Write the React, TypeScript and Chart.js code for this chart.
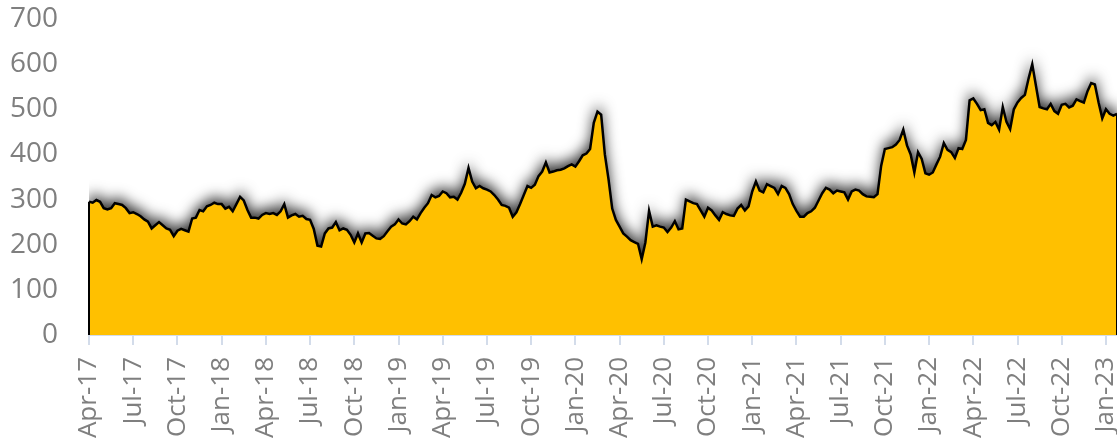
import React, { useEffect, useRef } from "react";
import { Chart, registerables } from "chart.js";

Chart.register(...registerables);

// Quarterly tick labels (one every 3 months starting Apr-17)
const quarterLabels = [
  "Apr-17", "Jul-17", "Oct-17", "Jan-18", "Apr-18", "Jul-18", "Oct-18", "Jan-19",
  "Apr-19", "Jul-19", "Oct-19", "Jan-20", "Apr-20", "Jul-20", "Oct-20", "Jan-21",
  "Apr-21", "Jul-21", "Oct-21", "Jan-22", "Apr-22", "Jul-22", "Oct-22", "Jan-23",
];

// Roughly weekly readings (4 per month), month 0 = Apr 2017
const samplesPerMonth = 4;

const vals2017 = [
  295, 293, 299, 295, 281, 278, 281, 292, 290, 288, 281, 270,
  272, 268, 263, 256, 251, 236, 243, 250, 243, 236, 233, 219,
  231, 235, 232, 229, 258, 260, 277, 274, 285, 288, 293, 290,
];
const vals2018 = [
  290, 280, 284, 274, 290, 306, 298, 277, 260, 260, 258, 266,
  270, 268, 270, 266, 274, 290, 260, 265, 268, 262, 264, 257,
  255, 235, 198, 196, 225, 236, 238, 250, 232, 236, 233, 222,
  205, 225, 205, 225, 226, 220, 214, 213, 219, 230, 240, 245,
];
const vals2019 = [
  256, 247, 245, 252, 262, 256, 270, 282, 292, 310, 305, 308,
  318, 314, 305, 306, 300, 315, 335, 370, 340, 325, 330, 325,
  322, 318, 310, 300, 288, 286, 282, 262, 272, 290, 310, 330,
  326, 333, 352, 362, 382, 360, 362, 365, 366, 369, 374, 378,
];
const vals2020 = [
  373, 385, 398, 402, 412, 470, 495, 488, 400, 345, 280, 255,
  240, 225, 218, 210, 206, 202, 168, 205, 275, 240, 243, 240,
  238, 228, 238, 252, 234, 236, 300, 296, 292, 290, 276, 262,
  282, 276, 265, 255, 272, 268, 265, 264, 280, 288, 276, 285,
];
const vals2021 = [
  318, 340, 320, 316, 334, 330, 326, 312, 330, 326, 312, 290,
  275, 262, 262, 270, 274, 282, 298, 314, 326, 322, 314, 320,
  318, 316, 300, 318, 322, 320, 312, 307, 306, 305, 312, 375,
  412, 414, 416, 422, 432, 455, 420, 400, 360, 405, 390, 358,
];
const vals2022 = [
  355, 360, 378, 395, 425, 410, 405, 392, 414, 412, 432, 520,
  524, 512, 498, 500, 470, 465, 472, 455, 505, 472, 456, 500,
  515, 525, 532, 568, 600, 552, 505, 502, 500, 512, 496, 490,
  510, 512, 504, 508, 522, 518, 515, 540, 558, 555, 515, 480,
];
const vals2023 = [500, 490, 486, 490];

const prices = [
  ...vals2017, ...vals2018, ...vals2019, ...vals2020, ...vals2021, ...vals2022, ...vals2023,
];

const FONT = "'Open Sans', 'Noto Sans', sans-serif";
const LABEL_GREY = "#7f7f7f";
const AXIS_BLUE = "#d3dcea";
const GOLD = "#FFC000";

export default function App() {
  const ref = useRef<HTMLCanvasElement>(null);

  useEffect(() => {
    document.body.style.margin = "0";
    const canvas = ref.current;
    if (!canvas) return;

    const points = prices.map((v, i) => ({ x: i / samplesPerMonth, y: v }));
    const xMax = (prices.length - 1) / samplesPerMonth;

    const areaDecor = {
      id: "areaDecor",
      // soft drop shadow behind the filled area (drawn before the fill itself)
      beforeDatasetsDraw(chart: any) {
        const meta = chart.getDatasetMeta(0);
        const pts = meta.data;
        if (!pts.length) return;
        const area = chart.chartArea;
        const y0 = chart.scales.y.getPixelForValue(0);
        const c = chart.ctx;
        c.save();
        c.beginPath();
        c.rect(area.left, area.top - 30, area.right - area.left, area.bottom - area.top + 30);
        c.clip();
        c.shadowColor = "rgba(0,0,0,0.8)";
        c.shadowBlur = 14;
        c.shadowOffsetX = 0;
        c.shadowOffsetY = -6;
        c.fillStyle = GOLD;
        c.beginPath();
        c.moveTo(pts[0].x, y0);
        for (const p of pts) c.lineTo(p.x, p.y);
        c.lineTo(pts[pts.length - 1].x, y0);
        c.closePath();
        c.fill();
        c.restore();
      },
      afterDatasetsDraw(chart: any) {
        const meta = chart.getDatasetMeta(0);
        const pts = meta.data;
        if (!pts.length) return;
        const y0 = chart.scales.y.getPixelForValue(0);
        const c = chart.ctx;
        c.save();
        c.strokeStyle = "#000";
        c.lineWidth = 2;
        c.beginPath();
        const first = pts[0];
        const last = pts[pts.length - 1];
        c.moveTo(first.x, first.y);
        c.lineTo(first.x, y0);
        c.moveTo(last.x, last.y);
        c.lineTo(last.x, y0);
        c.stroke();
        c.restore();
      },
    };

    const chart = new Chart(canvas, {
      type: "line",
      data: {
        datasets: [
          {
            data: points,
            borderColor: "#000000",
            borderWidth: 2.5,
            backgroundColor: GOLD,
            fill: "origin",
            pointRadius: 0,
            tension: 0,
          },
        ],
      },
      options: {
        responsive: false,
        animation: false,
        events: [],
        layout: { autoPadding: false, padding: { top: 19, left: 0, right: 0, bottom: 0 } },
        plugins: {
          legend: { display: false },
          tooltip: { enabled: false },
        },
        scales: {
          x: {
            type: "linear",
            min: 0,
            max: xMax,
            grid: {
              display: true,
              drawOnChartArea: false,
              drawTicks: true,
              tickLength: 10,
              color: AXIS_BLUE,
              lineWidth: 2,
            },
            border: { display: true, color: AXIS_BLUE, width: 2 },
            ticks: {
              stepSize: 3,
              includeBounds: false,
              autoSkip: false,
              minRotation: 90,
              maxRotation: 90,
              padding: 12,
              color: LABEL_GREY,
              font: { family: FONT, size: 26 },
              callback: (value: any) => {
                const idx = Math.round(Number(value) / 3);
                return quarterLabels[idx] ?? "";
              },
            },
            afterFit: (scale: any) => {
              scale.height = 111;
              scale.paddingLeft = 0;
              scale.paddingRight = 0;
              scale.paddingTop = 0;
              scale.paddingBottom = 0;
            },
          },
          y: {
            min: 0,
            max: 700,
            grid: { display: false, drawTicks: false },
            border: { display: false },
            ticks: {
              stepSize: 100,
              padding: 31,
              color: LABEL_GREY,
              font: { family: FONT, size: 28 },
            },
            afterFit: (scale: any) => {
              scale.width = 89;
              scale.paddingTop = 0;
              scale.paddingBottom = 0;
              scale.paddingLeft = 0;
              scale.paddingRight = 0;
            },
          },
        },
      },
      plugins: [areaDecor],
    });

    return () => chart.destroy();
  }, []);

  return (
    <div style={{ width: 1117, height: 446, background: "#fff" }}>
      <canvas ref={ref} width={1117} height={446} style={{ display: "block" }} />
    </div>
  );
}
